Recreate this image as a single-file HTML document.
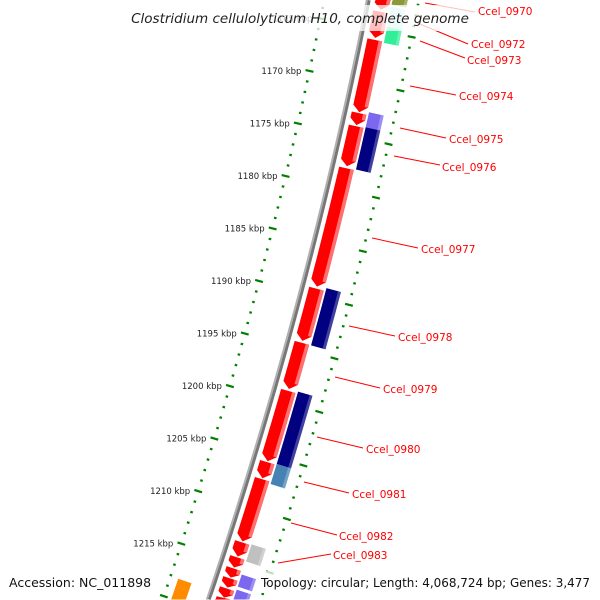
<!DOCTYPE html>
<html><head><meta charset="utf-8"><style>
html,body{margin:0;padding:0;background:#fff;width:600px;height:600px;overflow:hidden;}
svg{display:block;}
</style></head><body>
<svg id="c" width="600" height="600" viewBox="0 0 600 600" xmlns="http://www.w3.org/2000/svg" style="overflow:hidden"></svg>
<script>
// Data (kbp)
const fwdStarts = [1160.28,1163.30,1165.94,1172.83,1174.06,1178.02,1189.34,1194.43,1198.96,1205.66,1207.26,1213.21,1214.62,1215.66,1216.60,1217.55,1218.49];
const fwdEnds   = [1163.11,1165.75,1172.74,1173.96,1177.83,1189.15,1194.25,1198.77,1205.57,1207.17,1213.11,1214.53,1215.57,1216.51,1217.45,1218.40,1220.66];
const revStarts = [1160.75,1162.64,1164.53,1172.55,1173.96,1189.06,1198.77,1205.57,1213.11,1215.94,1217.36];
const revEnds   = [1162.45,1164.53,1166.04,1173.96,1177.92,1194.43,1205.57,1207.45,1214.72,1217.08,1218.77];
const revColors = ['#8a9a3a','#bff0f0','#33ee99','#7b68ee','#000080','#000080','#000080','#4682b4','#c0c0c0','#7b68ee','#7b68ee'];
const tickLabels = [1165,1170,1175,1180,1185,1190,1195,1200,1205,1210,1215];
const geneNames = ['Ccel_0970','Ccel_0972','Ccel_0973','Ccel_0974','Ccel_0975','Ccel_0976','Ccel_0977','Ccel_0978','Ccel_0979','Ccel_0980','Ccel_0981','Ccel_0982','Ccel_0983'];
// label layout: [lineStartX,lineStartY,lineEndX,lineEndY,textX,textY]
const labelLayout = [[425,3,475,12,478,15],[415,22,468,44,471,48],[420,41,465,58,467,64],[410,86,456,95,459,100],[400,128,446,138,449,143],[394,156,440,165,442,171],[372,238,418,248,421,253],[349,326,395,336,398,341],[335,377,380,388,383,393],[317,437,363,448,366,453],[304,482,349,493,352,498],[291,523,337,535,339,540],[278,563,331,554,333,559]];

const NS='http://www.w3.org/2000/svg';
const svg=document.getElementById('c');
function el(tag,attrs,parent){const e=document.createElementNS(NS,tag);for(const k in attrs)e.setAttribute(k,attrs[k]);(parent||svg).appendChild(e);return e;}
function kToY(k){return 80+(k-1170)*10.6;}
function X(y){return 368-0.1967*y-0.0001167*y*y;}
function pt(y,off){const dx=-(0.1967+0.0002334*y);const L=Math.sqrt(1+dx*dx);return [X(y)+off/L, y+(-dx)*off/L];}
function cl(v){return Math.max(0,Math.min(599.5,v));}
function P(a){return cl(a[0]).toFixed(2)+','+cl(a[1]).toFixed(2);}

// backbone
let bb1=[],bb2=[];
for(let y=0;y<=600;y+=10){bb1.push(P(pt(y,-1.2)));bb2.push(P(pt(y,1.2)));}
const backbone=el('polyline',{points:bb2.join(' '),fill:'none',stroke:'#777','stroke-width':3});


const backbone2=el('polyline',{points:bb1.join(' '),fill:'none',stroke:'#b0b0b0','stroke-width':2});



function band(y1,y2,o1,o2,arrow){
  const pts=[];const n=6;const tip=arrow?Math.min(6,(y2-y1)*0.5):0;
  for(let i=0;i<=n;i++){const y=y1+(y2-tip-y1)*i/n;pts.push(P(pt(y,o1)));}
  if(arrow)pts.push(P(pt(y2,(o1+o2)/2)));
  for(let i=n;i>=0;i--){const y=y1+(y2-tip-y1)*i/n;pts.push(P(pt(y,o2)));}
  return pts.join(' ');
}
// forward genes
const gF=el('g',{});


for(let i=0;i<fwdStarts.length;i++){
  const y1=kToY(fwdStarts[i]),y2=kToY(fwdEnds[i]);
  const p=el('polygon',{points:band(y1,y2,7,22,true),fill:'#ff0000'},gF);
  
  
  const tip=Math.min(6,(y2-y1)*0.5);
  const s=el('polygon',{points:band(y1,y2-tip,18.5,22,false),fill:'#ff7070'},gF);
  
  
}
// reverse strand genes
const gR=el('g',{});


for(let i=0;i<revStarts.length;i++){
  const y1=kToY(revStarts[i]),y2=kToY(revEnds[i]);
  const p=el('polygon',{points:band(y1,y2,24,39,false),fill:revColors[i]},gR);
  
  
  const s=el('polygon',{points:band(y1,y2,36,39,false),fill:'#ffffff','fill-opacity':0.25},gR);
  
  
}
// inner strand orange gene at bottom
const o1=el('polygon',{points:band(kToY(1218.1),kToY(1220.5),-35,-21,false),fill:'#ff8c00'});



// tick rings
function ring(off,name){
  const g=el('g',{});
  
  
  for(let k=1158;k<=1222;k++){
    const y=kToY(k);const major=(k%5===0);const h=major?4:1.3;
    const a=pt(y,off-h),b=pt(y,off+h);
    if(a[1]<1||b[1]<1||a[1]>598||b[1]>598)continue;
    const l=el('line',{x1:a[0],y1:a[1],x2:b[0],y2:b[1],stroke:'#008000','stroke-width':2.2},g);
    
    
  }
}
ring(-43,'inner-tick-ring');
ring(50,'outer-tick-ring');
// tick labels
for(const k of tickLabels){
  const p=pt(kToY(k),-43);
  const t=el('text',{x:p[0]-8,y:p[1]+3,'text-anchor':'end','font-family':'DejaVu Sans, Liberation Sans, sans-serif','font-size':8.5,fill:'#222'});
  t.textContent=k+' kbp';
  
  
}
// gene labels
for(let i=0;i<geneNames.length;i++){
  const L=labelLayout[i];
  const ln=el('line',{x1:L[0],y1:L[1],x2:L[2],y2:L[3],stroke:'#ff0000','stroke-width':1});
  
  
  const t=el('text',{x:L[4],y:L[5],'font-family':'DejaVu Sans, Liberation Sans, sans-serif','font-size':10.5,fill:'#ff0000'});
  t.textContent=geneNames[i];
  
  
}
// title
const tb=el('rect',{x:122,y:5,width:356,height:26,fill:'#fff','fill-opacity':0.75});


const title=el('text',{x:300,y:23,'text-anchor':'middle','font-family':'DejaVu Sans, Liberation Sans, sans-serif','font-size':13.5,'font-style':'italic',fill:'#222'});
title.textContent='Clostridium cellulolyticum H10, complete genome';


// footer
const fb=el('rect',{x:258,y:571,width:338,height:22,fill:'#fff','fill-opacity':0.75});


const acc=el('text',{x:9,y:587,'font-family':'DejaVu Sans, Liberation Sans, sans-serif','font-size':12.5,fill:'#111'});
acc.textContent='Accession: NC_011898';


const topo=el('text',{x:261,y:587,'font-family':'DejaVu Sans, Liberation Sans, sans-serif','font-size':12.5,fill:'#111',textLength:329,lengthAdjust:'spacingAndGlyphs'});
topo.textContent='Topology: circular; Length: 4,068,724 bp; Genes: 3,477';


</script>
</body></html>
